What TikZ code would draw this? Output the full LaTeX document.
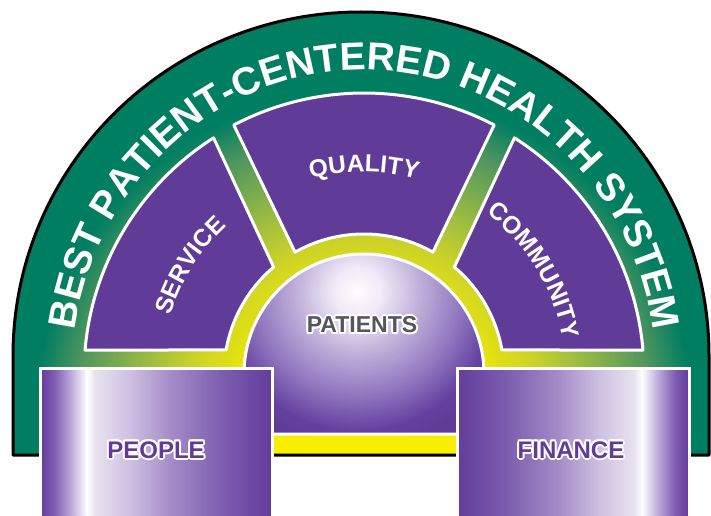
\documentclass[tikz,border=0pt]{standalone}
\usepackage{fontspec}
\setmainfont{Liberation Sans}
\usetikzlibrary{decorations.text}
\definecolor{purp}{RGB}{96,60,152}
\definecolor{grayt}{RGB}{85,85,92}
\definecolor{pc0}{RGB}{98,58,155}
\definecolor{pc1}{RGB}{130,95,180}
\definecolor{pc2}{RGB}{205,190,228}
\definecolor{pc3}{RGB}{255,255,255}
\definecolor{pc4}{RGB}{232,226,240}
\definecolor{pc5}{RGB}{205,192,225}
\definecolor{pc6}{RGB}{165,140,200}
\definecolor{pc7}{RGB}{125,95,175}
\definecolor{pc8}{RGB}{98,60,155}
\newcommand\bandfnt{\fontsize{39}{39}\selectfont\bfseries}
\newcommand\secfnt{\fontsize{24.5}{24.5}\selectfont\bfseries}
\newcommand\lblfnt{\fontsize{24}{24}\selectfont\bfseries}
\newcommand\halo[3]{%
\begingroup
\def\hh##1##2{\rlap{\hspace*{##1}\raisebox{##2}{\textcolor{#1}{#3}}}}%
\hh{2pt}{0pt}\hh{-2pt}{0pt}\hh{0pt}{2pt}\hh{0pt}{-2pt}%
\hh{1.4pt}{1.4pt}\hh{-1.4pt}{1.4pt}\hh{1.4pt}{-1.4pt}\hh{-1.4pt}{-1.4pt}%
\textcolor{#2}{#3}%
\endgroup}
\tikzset{
 sector/.style={fill=purp, draw=white, line width=3pt, line join=round},
 pillarborder/.style={draw=white, line width=3pt},
 lbl/.style={inner sep=0pt, font=\lblfnt},
 arctext/.style={decorate, decoration={text along path, text align=center, text color=white, text={#1}}},
}
\begin{document}
\begin{tikzpicture}[x=1pt,y=1pt]
\useasboundingbox (0,0) rectangle (711,515);
\coordinate (C) at (364,141);
\coordinate (G) at (364,95);
\coordinate (H) at (358,223);
% background gradient
\begin{scope}
\clip (13,60) -- (13,159) arc[start angle=180,end angle=0,x radius=348,y radius=344] -- (709,60) -- cycle;
\foreach \r in {430,427,...,1}{
 \pgfmathtruncatemacro\cR{248-43*max(0,min(\r-110,70))/70-55*max(0,min(\r-180,50))/50-70*max(0,min(\r-230,60))/60-80*max(0,min(\r-290,40))/40}
 \pgfmathtruncatemacro\cG{238-26*max(0,min(\r-110,70))/70-27*max(0,min(\r-180,50))/50-35*max(0,min(\r-230,60))/60-24*max(0,min(\r-290,40))/40}
 \pgfmathtruncatemacro\cB{40*max(0,min(\r-110,70))/70+30*max(0,min(\r-180,50))/50+25*max(0,min(\r-230,60))/60+3*max(0,min(\r-290,40))/40}
 \definecolor{bgc}{RGB}{\cR,\cG,\cB}
 \fill[bgc] (G) circle[radius=\r];
}
\end{scope}
\draw[black, line width=3pt, line join=round] (13,60) -- (13,159) arc[start angle=180,end angle=0,x radius=348,y radius=344] -- (709,60) -- cycle;
% sectors
\draw[sector] ([shift={(175.1:280)}]C) arc[start angle=175.1,end angle=122.5,radius=280] -- ([shift={(130.2:140)}]C) arc[start angle=130.2,end angle=170.1,radius=140] -- cycle;
\draw[sector] ([shift={(117.6:281)}]C) arc[start angle=117.6,end angle=62.4,radius=281] -- ([shift={(60.5:140)}]C) arc[start angle=60.5,end angle=119.5,radius=140] -- cycle;
\draw[sector] ([shift={(57.5:280)}]C) arc[start angle=57.5,end angle=4.9,radius=280] -- ([shift={(9.9:140)}]C) arc[start angle=9.9,end angle=49.8,radius=140] -- cycle;
% dome
\begin{scope}
\clip ([shift={(0:120)}]C) arc[start angle=0,end angle=180,radius=120] -- (244,81) -- (484,81) -- cycle;
\foreach \r in {180,178,...,2}{
 \pgfmathtruncatemacro\cR{255-15*max(0,min(\r,25))/25-45*max(0,min(\r-25,35))/35-45*max(0,min(\r-60,40))/40-50*max(0,min(\r-100,40))/40-4*max(0,min(\r-140,20))/20}
 \pgfmathtruncatemacro\cG{255-19*max(0,min(\r,25))/25-56*max(0,min(\r-25,35))/35-55*max(0,min(\r-60,40))/40-60*max(0,min(\r-100,40))/40-5*max(0,min(\r-140,20))/20}
 \pgfmathtruncatemacro\cB{255-7*max(0,min(\r,25))/25-28*max(0,min(\r-25,35))/35-25*max(0,min(\r-60,40))/40-35*max(0,min(\r-100,40))/40-8*max(0,min(\r-140,20))/20}
 \definecolor{dmc}{RGB}{\cR,\cG,\cB}
 \fill[dmc] (H) circle[radius=\r];
}
\end{scope}
\draw[white, line width=3pt, line join=round] ([shift={(0:120)}]C) arc[start angle=0,end angle=180,radius=120] -- (244,81) -- (484,81) -- cycle;
% pillars
\foreach \a/\b/\ca/\cb in {40/55/pc0/pc1, 55/75/pc1/pc2, 75/87/pc2/pc3, 87/95/pc3/pc4, 95/130/pc4/pc5, 130/170/pc5/pc6, 170/220/pc6/pc7, 220/272/pc7/pc8}{
 \shade[left color=\ca, right color=\cb] (\a-0.3,-5) rectangle (\b+0.3,147);
 \shade[left color=\cb, right color=\ca] (729-\b-0.3,-5) rectangle (729-\a+0.3,147);
}
\draw[pillarborder] (40,-5) rectangle (272,147);
\draw[pillarborder] (457,-5) rectangle (689,147);
% texts
\path[arctext={|\bandfnt|BEST PATIENT-CENTERED HEALTH SYSTEM}] ([shift={(180:292 and 304)}]C) arc[start angle=180,end angle=0,x radius=292,y radius=304];
\path[arctext={|\secfnt|SERVICE}] ([shift={(188:202)}]C) arc[start angle=188,end angle=108,radius=202];
\path[arctext={|\secfnt|QUALITY}] ([shift={(130:202)}]C) arc[start angle=130,end angle=50,radius=202];
\path[arctext={|\secfnt|COMMUNITY}] ([shift={(71.4:202)}]C) arc[start angle=71.4,end angle=-8.6,radius=202];
\node[lbl] (people) at (156,65) {\halo{white}{purp}{PEOPLE}};
\node[lbl] (finance) at (571,65) {\halo{white}{purp}{FINANCE}};
\node[lbl, font=\fontsize{23}{23}\selectfont\bfseries] (patients) at (362,190) {\halo{white}{grayt}{PATIENTS}};
\end{tikzpicture}
\end{document}
